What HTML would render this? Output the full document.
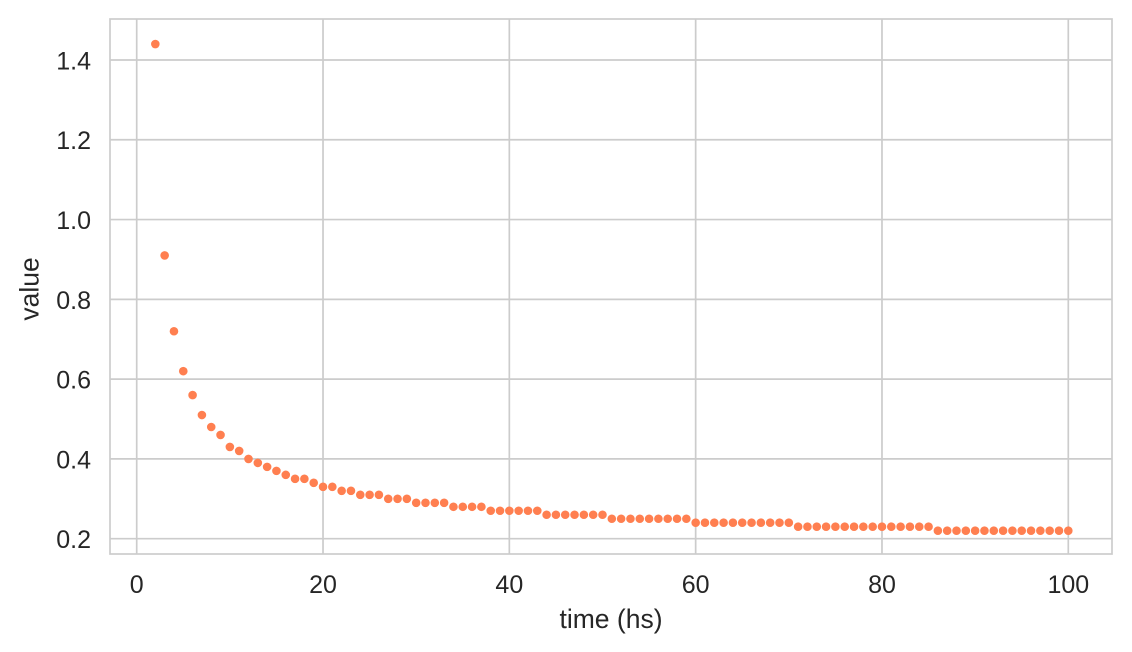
<!DOCTYPE html>
<html>
<head>
<meta charset="utf-8">
<style>
  html, body { margin: 0; padding: 0; background: #ffffff; }
  svg { display: block; }
  text { font-family: "Liberation Sans", Arial, sans-serif; fill: #262626; }
</style>
</head>
<body>
<svg width="1132" height="652" viewBox="0 0 1132 652" xmlns="http://www.w3.org/2000/svg">
  <rect x="0" y="0" width="1132" height="652" fill="#ffffff"/>
  <g stroke="#cccccc" stroke-width="1.7" fill="none">
    <line x1="110" y1="60" x2="1112" y2="60"/>
    <line x1="110" y1="139.78" x2="1112" y2="139.78"/>
    <line x1="110" y1="219.56" x2="1112" y2="219.56"/>
    <line x1="110" y1="299.34" x2="1112" y2="299.34"/>
    <line x1="110" y1="379.12" x2="1112" y2="379.12"/>
    <line x1="110" y1="458.9" x2="1112" y2="458.9"/>
    <line x1="110" y1="538.68" x2="1112" y2="538.68"/>
    <line x1="136.7" y1="19" x2="136.7" y2="554"/>
    <line x1="323.02" y1="19" x2="323.02" y2="554"/>
    <line x1="509.34" y1="19" x2="509.34" y2="554"/>
    <line x1="695.66" y1="19" x2="695.66" y2="554"/>
    <line x1="881.98" y1="19" x2="881.98" y2="554"/>
    <line x1="1068.3" y1="19" x2="1068.3" y2="554"/>
    <rect x="110" y="19" width="1002" height="535"/>
  </g>

  <g font-size="25" text-anchor="end">
    <text x="91" y="69.4">1.4</text>
    <text x="91" y="149.2">1.2</text>
    <text x="91" y="229">1.0</text>
    <text x="91" y="308.8">0.8</text>
    <text x="91" y="388.6">0.6</text>
    <text x="91" y="468.3">0.4</text>
    <text x="91" y="548.1">0.2</text>
  </g>
  <g font-size="25" text-anchor="middle">
    <text x="136.7" y="593">0</text>
    <text x="323.02" y="593">20</text>
    <text x="509.34" y="593">40</text>
    <text x="695.66" y="593">60</text>
    <text x="881.98" y="593">80</text>
    <text x="1068.3" y="593">100</text>
  </g>
  <text x="611" y="628" font-size="26.5" text-anchor="middle">time (hs)</text>
  <text transform="translate(38.5,289) rotate(-90)" font-size="26.5" text-anchor="middle">value</text>

  <g fill="#ff7f50">
    <circle cx="155.33" cy="44.04" r="4.3"/>
    <circle cx="164.65" cy="255.46" r="4.3"/>
    <circle cx="173.96" cy="331.25" r="4.3"/>
    <circle cx="183.28" cy="371.14" r="4.3"/>
    <circle cx="192.60" cy="395.08" r="4.3"/>
    <circle cx="201.91" cy="415.02" r="4.3"/>
    <circle cx="211.23" cy="426.99" r="4.3"/>
    <circle cx="220.54" cy="434.97" r="4.3"/>
    <circle cx="229.86" cy="446.93" r="4.3"/>
    <circle cx="239.18" cy="450.92" r="4.3"/>
    <circle cx="248.49" cy="458.90" r="4.3"/>
    <circle cx="257.81" cy="462.89" r="4.3"/>
    <circle cx="267.12" cy="466.88" r="4.3"/>
    <circle cx="276.44" cy="470.87" r="4.3"/>
    <circle cx="285.76" cy="474.86" r="4.3"/>
    <circle cx="313.70" cy="482.83" r="4.3"/>
  </g>
  <g stroke="#ff7f50" stroke-width="8.6" stroke-linecap="round" stroke-dasharray="0 9.316" fill="none">
    <line x1="295.07" y1="478.85" x2="304.49" y2="478.85"/>
    <line x1="323.02" y1="486.82" x2="332.44" y2="486.82"/>
    <line x1="341.65" y1="490.81" x2="351.07" y2="490.81"/>
    <line x1="360.28" y1="494.80" x2="379.02" y2="494.80"/>
    <line x1="388.23" y1="498.79" x2="406.96" y2="498.79"/>
    <line x1="416.18" y1="502.78" x2="444.23" y2="502.78"/>
    <line x1="453.44" y1="506.77" x2="481.49" y2="506.77"/>
    <line x1="490.71" y1="510.76" x2="537.39" y2="510.76"/>
    <line x1="546.60" y1="514.75" x2="602.60" y2="514.75"/>
    <line x1="611.82" y1="518.74" x2="686.44" y2="518.74"/>
    <line x1="695.66" y1="522.72" x2="788.92" y2="522.72"/>
    <line x1="798.14" y1="526.71" x2="928.66" y2="526.71"/>
    <line x1="937.88" y1="530.70" x2="1068.40" y2="530.70"/>
  </g>
</svg>
</body>
</html>
